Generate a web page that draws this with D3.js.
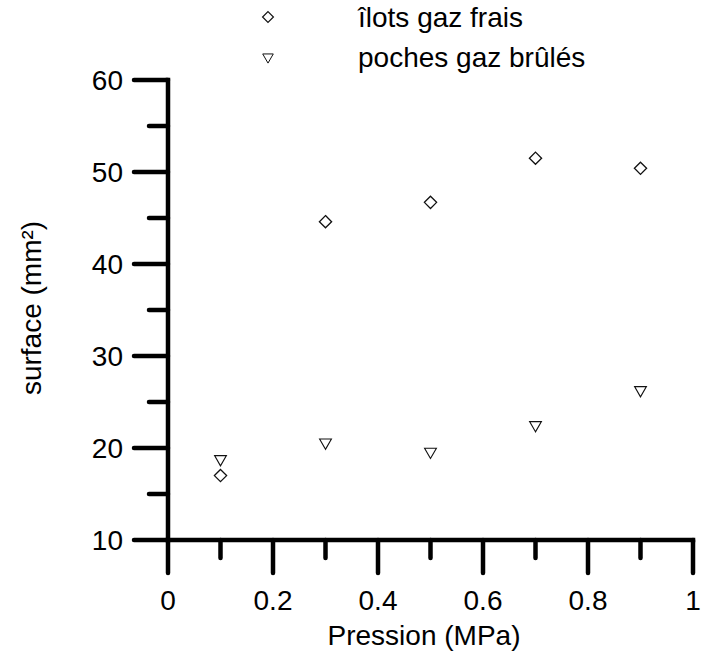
<!DOCTYPE html>
<html>
<head>
<meta charset="utf-8">
<script src="https://cdn.jsdelivr.net/npm/d3@7"></script>
<style>
  html, body { margin: 0; padding: 0; background: #fff; }
  text { font-family: "Liberation Sans", Arial, sans-serif; fill: #000; }
</style>
</head>
<body>
<svg id="chart" width="701" height="654"></svg>
<script>
// Data
const pressures = [0.1, 0.3, 0.5, 0.7, 0.9];
const ilotsGazFrais = [17.0, 44.6, 46.7, 51.5, 50.4];
const pochesGazBrules = [18.8, 20.6, 19.6, 22.5, 26.3];
const seriesNames = ["îlots gaz frais", "poches gaz brûlés"];
const xTicks = [0, 0.2, 0.4, 0.6, 0.8, 1];
const yTicks = [10, 20, 30, 40, 50, 60];
const xTitle = "Pression (MPa)";
const yTitle = "surface (mm²)";

const svg = d3.select("#chart");
const x = d3.scaleLinear().domain([0, 1]).range([168, 693]);
const y = d3.scaleLinear().domain([10, 60]).range([540, 80]);

const axisW = 4.5;
const fs = 28;
const g = svg.append("g");

// minor ticks
const xMinor = d3.range(0.1, 1, 0.2);
const yMinor = d3.range(15, 60, 10);

g.selectAll(".xmaj").data(xTicks).join("line")
  .attr("x1", d => x(d)).attr("x2", d => x(d))
  .attr("y1", y(10)).attr("y2", y(10) + 33)
  .attr("stroke", "#000").attr("stroke-width", axisW).attr("stroke-linecap", "round");
g.selectAll(".xmin").data(xMinor).join("line")
  .attr("x1", d => x(d)).attr("x2", d => x(d))
  .attr("y1", y(10)).attr("y2", y(10) + 18)
  .attr("stroke", "#000").attr("stroke-width", axisW).attr("stroke-linecap", "round");
g.selectAll(".ymaj").data(yTicks).join("line")
  .attr("x1", x(0) - 34).attr("x2", x(0))
  .attr("y1", d => y(d)).attr("y2", d => y(d))
  .attr("stroke", "#000").attr("stroke-width", axisW).attr("stroke-linecap", "round");
g.selectAll(".ymin").data(yMinor).join("line")
  .attr("x1", x(0) - 19).attr("x2", x(0))
  .attr("y1", d => y(d)).attr("y2", d => y(d))
  .attr("stroke", "#000").attr("stroke-width", axisW).attr("stroke-linecap", "round");

// axis lines
g.append("line").attr("x1", x(0)).attr("x2", x(0)).attr("y1", y(60)).attr("y2", y(10))
  .attr("stroke", "#000").attr("stroke-width", axisW).attr("stroke-linecap", "square");
g.append("line").attr("x1", x(0)).attr("x2", x(1)).attr("y1", y(10)).attr("y2", y(10))
  .attr("stroke", "#000").attr("stroke-width", axisW).attr("stroke-linecap", "square");

// tick labels
g.selectAll(".xl").data(xTicks).join("text")
  .attr("x", d => x(d)).attr("y", 610)
  .attr("text-anchor", "middle").attr("font-size", fs)
  .text(d => d3.format("~g")(d));
g.selectAll(".yl").data(yTicks).join("text")
  .attr("x", 123).attr("y", d => y(d) + 10)
  .attr("text-anchor", "end").attr("font-size", fs)
  .text(d => d);

// titles
svg.append("text").attr("x", 424).attr("y", 645).attr("text-anchor", "middle")
  .attr("font-size", fs).text(xTitle);
svg.append("text").attr("transform", "translate(41,308) rotate(-90)")
  .attr("text-anchor", "middle").attr("font-size", fs).text(yTitle);

// symbols
const diamond = d3.symbol().type(d3.symbolDiamond2).size(95);
const triangle = d3.symbol().type(d3.symbolTriangle2).size(100);

svg.selectAll(".dia").data(pressures).join("path")
  .attr("d", diamond)
  .attr("transform", (d, i) => `translate(${x(d)},${y(ilotsGazFrais[i])})`)
  .attr("fill", "none").attr("stroke", "#111").attr("stroke-width", 1.3);
svg.selectAll(".tri").data(pressures).join("path")
  .attr("d", triangle)
  .attr("transform", (d, i) => `translate(${x(d)},${y(pochesGazBrules[i])}) rotate(180)`)
  .attr("fill", "none").attr("stroke", "#111").attr("stroke-width", 1.1);

// legend
const legend = svg.append("g");
legend.append("path").attr("d", d3.symbol().type(d3.symbolDiamond2).size(75))
  .attr("transform", "translate(268,17)")
  .attr("fill", "none").attr("stroke", "#111").attr("stroke-width", 1.2);
legend.append("path").attr("d", d3.symbol().type(d3.symbolTriangle2).size(80))
  .attr("transform", "translate(268,57) rotate(180)")
  .attr("fill", "none").attr("stroke", "#111").attr("stroke-width", 1.0);
legend.append("text").attr("x", 358).attr("y", 27).attr("font-size", fs).text(seriesNames[0]);
legend.append("text").attr("x", 358).attr("y", 67).attr("font-size", fs).text(seriesNames[1]);
</script>
</body>
</html>
